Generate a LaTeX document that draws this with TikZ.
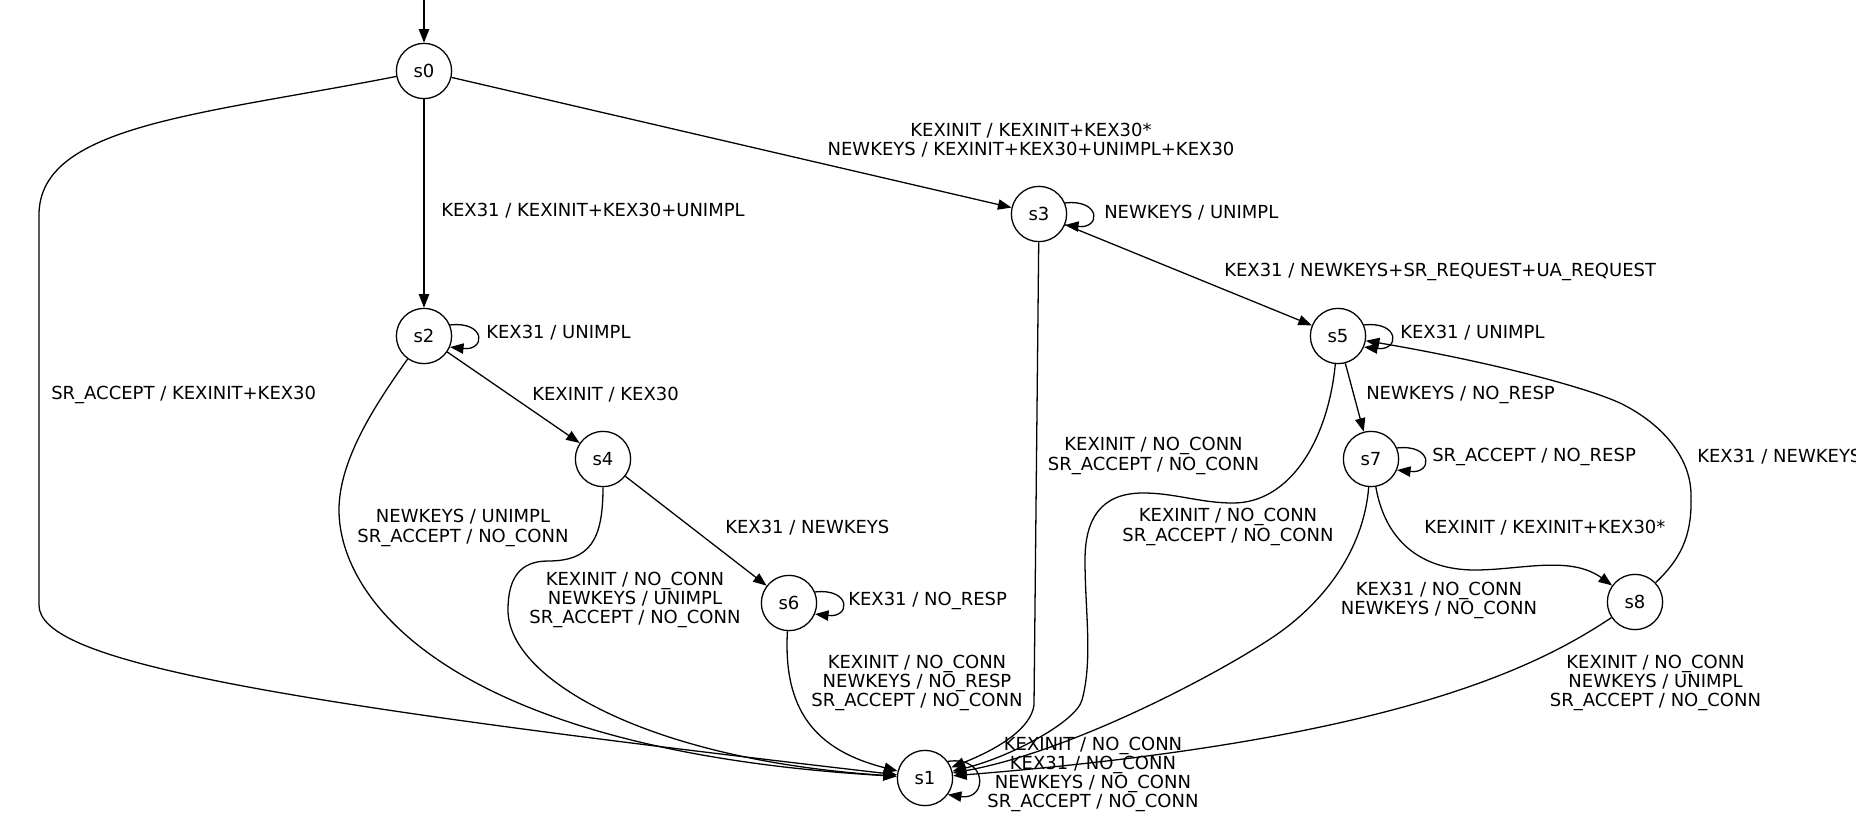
\documentclass[tikz,border=0pt]{standalone}
\usepackage{fontspec}
\setmainfont{DejaVu Sans}
\usetikzlibrary{arrows.meta}
\tikzset{
  state/.style={circle, draw, line width=1pt, minimum size=43pt, inner sep=0pt, font=\fontsize{14}{15}\selectfont},
  trans/.style={draw, line width=1pt, -{Triangle[length=10.5pt, width=8pt]}},
  lbl/.style={inner sep=0pt, align=center, font=\fontsize{14}{15}\selectfont},
}

\begin{document}
\begin{tikzpicture}[x=0.7778pt, y=-0.7778pt]
\useasboundingbox (0,0) rectangle (1856,831);
% states
\node[state] (s0) at (424,71) {s0};
\node[state] (s2) at (424,336) {s2};
\node[state] (s3) at (1039,214) {s3};
\node[state] (s4) at (603,459) {s4};
\node[state] (s5) at (1338,336) {s5};
\node[state] (s6) at (789,603) {s6};
\node[state] (s7) at (1371,459) {s7};
\node[state] (s8) at (1635,602) {s8};
\node[state] (s1) at (925,778) {s1};
\coordinate (init) at (424,0);
% straight transitions
\draw[trans] (init) -- (s0);
\draw[trans] (s0) -- (s3);
\draw[trans] (s0) -- (s2);
\draw[trans] (s2) -- (s4);
\draw[trans] (s4) -- (s6);
\draw[trans] (s3) -- (s5);
\draw[trans] (s5) -- (s7);
% self loops
\draw[trans] (s2.23) .. controls +(36,-4) and +(36,4) .. (s2.-23);
\draw[trans] (s3.23) .. controls +(36,-4) and +(36,4) .. (s3.-23);
\draw[trans] (s5.23) .. controls +(36,-4) and +(36,4) .. (s5.-23);
\draw[trans] (s6.23) .. controls +(36,-4) and +(36,4) .. (s6.-23);
\draw[trans] (s7.23) .. controls +(36,-4) and +(36,4) .. (s7.-23);
\draw[trans] (s1.36) .. controls +(40,-6) and +(40,6) .. (s1.-36);
% curved transitions
\draw[trans] (s0) .. controls (200,115) and (39,125) .. (39,215) -- (39,605)
  .. controls (39,660) and (250,700) .. (s1);
\draw[trans] (s2) .. controls (375,405) and (339,460) .. (339,510)
  .. controls (339,600) and (450,750) .. (s1);
\draw[trans] (s4) .. controls (603,540) and (590,561) .. (548,561)
  .. controls (520,561) and (508,578) .. (508,610)
  .. controls (508,680) and (650,760) .. (s1);
\draw[trans] (s6) .. controls (783,710) and (815,750) .. (s1);
\draw[trans] (s3) -- (1034,705) .. controls (1031,728) and (1000,748) .. (s1);
\draw[trans] (s5) .. controls (1328,440) and (1290,503) .. (1233,503)
  .. controls (1200,503) and (1175,493) .. (1143,493)
  .. controls (1100,493) and (1085,520) .. (1085,560)
  .. controls (1085,610) and (1093,660) .. (1082,700)
  .. controls (1076,722) and (1010,757) .. (s1);
\draw[trans] (s7) .. controls (1364,545) and (1330,595) .. (1283,630)
  .. controls (1240,662) and (1080,750) .. (s1);
\draw[trans] (s8) .. controls (1540,665) and (1400,740) .. (s1);
\draw[trans] (s7) .. controls (1385,540) and (1420,570) .. (1475,570)
  .. controls (1520,570) and (1570,555) .. (s8);
\draw[trans] (s8) .. controls (1685,555) and (1692,530) .. (1691,495)
  .. controls (1691,460) and (1665,425) .. (1620,403)
  .. controls (1580,385) and (1480,360) .. (s5);
% labels
\node[lbl] (l03) at (1031,140) {KEXINIT / KEXINIT+KEX30*\\NEWKEYS / KEXINIT+KEX30+UNIMPL+KEX30};
\node[lbl, anchor=west] (l02) at (441,211) {KEX31 / KEXINIT+KEX30+UNIMPL};
\node[lbl, anchor=west] (l01) at (51,395) {SR\_ACCEPT / KEXINIT+KEX30};
\node[lbl, anchor=west] (l22) at (486,333) {KEX31 / UNIMPL};
\node[lbl, anchor=west] (l24) at (532,395) {KEXINIT / KEX30};
\node[lbl] (l21) at (463,528) {NEWKEYS / UNIMPL\\SR\_ACCEPT / NO\_CONN};
\node[lbl, anchor=west] (l46) at (725,528) {KEX31 / NEWKEYS};
\node[lbl] (l41) at (635,600) {KEXINIT / NO\_CONN\\NEWKEYS / UNIMPL\\SR\_ACCEPT / NO\_CONN};
\node[lbl, anchor=west] (l66) at (848,601) {KEX31 / NO\_RESP};
\node[lbl] (l61) at (917,683) {KEXINIT / NO\_CONN\\NEWKEYS / NO\_RESP\\SR\_ACCEPT / NO\_CONN};
\node[lbl, anchor=west] (l33) at (1104,213) {NEWKEYS / UNIMPL};
\node[lbl, anchor=west] (l35) at (1224,272) {KEX31 / NEWKEYS+SR\_REQUEST+UA\_REQUEST};
\node[lbl] (l31) at (1153.5,456) {KEXINIT / NO\_CONN\\SR\_ACCEPT / NO\_CONN};
\node[lbl, anchor=west] (l55) at (1400,333) {KEX31 / UNIMPL};
\node[lbl, anchor=west] (l57) at (1366,395) {NEWKEYS / NO\_RESP};
\node[lbl] (l51) at (1228,527) {KEXINIT / NO\_CONN\\SR\_ACCEPT / NO\_CONN};
\node[lbl, anchor=west] (l77) at (1432,457) {SR\_ACCEPT / NO\_RESP};
\node[lbl, anchor=west] (l78) at (1424,528) {KEXINIT / KEXINIT+KEX30*};
\node[lbl] (l71) at (1439,600.5) {KEX31 / NO\_CONN\\NEWKEYS / NO\_CONN};
\node[lbl, anchor=west] (l85) at (1697,457) {KEX31 / NEWKEYS};
\node[lbl] (l81) at (1655.5,683) {KEXINIT / NO\_CONN\\NEWKEYS / UNIMPL\\SR\_ACCEPT / NO\_CONN};
\node[lbl] (l11) at (1093,774.5) {KEXINIT / NO\_CONN\\KEX31 / NO\_CONN\\NEWKEYS / NO\_CONN\\SR\_ACCEPT / NO\_CONN};
\end{tikzpicture}
\end{document}
